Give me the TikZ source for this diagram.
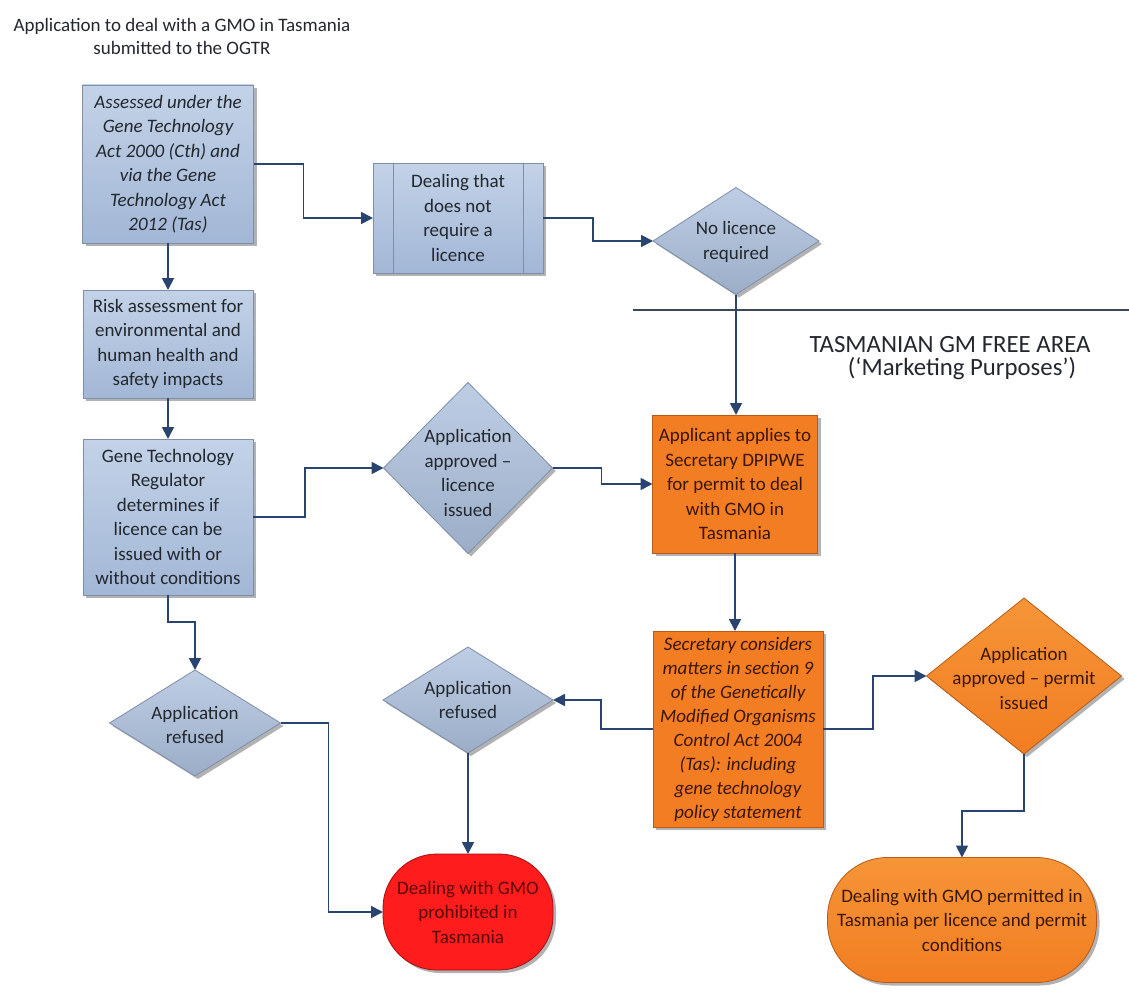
\documentclass[tikz,border=0pt]{standalone}
\usepackage{fontspec}
\setmainfont{Carlito}
\usetikzlibrary{shapes.geometric,arrows.meta,shadows,calc}
\definecolor{blueTop}{HTML}{C3D2E7}
\definecolor{blueBot}{HTML}{A2B7D6}
\definecolor{blueEdge}{HTML}{7F8FA8}
\definecolor{diaFill}{HTML}{A9BCD9}
\definecolor{orangeFill}{HTML}{F27D22}
\definecolor{orangeLight}{HTML}{F59537}
\definecolor{orangeEdge}{HTML}{B85A16}
\definecolor{redFill}{HTML}{FF1C1C}
\definecolor{redEdge}{HTML}{A01010}
\definecolor{textDark}{HTML}{23272E}
\definecolor{textBrown}{HTML}{3B1606}
\definecolor{textRed}{HTML}{5A0808}
\definecolor{arrowBlue}{HTML}{28446F}
\definecolor{ruleGray}{HTML}{3A4858}
\begin{document}
\begin{tikzpicture}[x=1pt,y=-1pt,
  every node/.style={inner sep=0pt,outer sep=0pt},
  txt/.style={font=\fontsize{19}{24.5}\selectfont,align=center,text=textDark},
  shad/.style={drop shadow={shadow xshift=3pt,shadow yshift=-3pt,opacity=0.3,fill=black}},
  bluebox/.style={txt,shad,draw=blueEdge,line width=0.8pt,top color=blueTop,bottom color=blueBot},
  bluedia/.style={shad,diamond,draw=blueEdge,line width=0.8pt,top color=blueTop!80!diaFill,bottom color=diaFill!92!black},
  orangebox/.style={txt,shad,text=textBrown,draw=orangeEdge,line width=0.8pt,fill=orangeFill},
  orangedia/.style={shad,diamond,draw=orangeEdge,line width=0.8pt,top color=orangeLight,bottom color=orangeFill},
  diatext/.style={txt},
  conn/.style={draw=arrowBlue,line width=1.8pt,-{Triangle[length=12pt,width=12pt]}},
]
\useasboundingbox[fill=white] (0,0) rectangle (1129,1006);

% title
\node[font=\fontsize{19}{23}\selectfont,align=center,text=textDark] (title) at (182,36.5)
  {Application to deal with a GMO in Tasmania\\submitted to the OGTR};

% left column
\node[bluebox,font=\itshape\fontsize{19}{24.5}\selectfont,minimum width=171pt,minimum height=158pt] (A) at (168,164)
  {Assessed under the\\Gene Technology\\Act 2000 (Cth) and\\via the Gene\\Technology Act\\2012 (Tas)};
\node[bluebox,minimum width=170pt,minimum height=108pt] (B) at (168,344)
  {Risk assessment for\\environmental and\\human health and\\safety impacts};
\node[bluebox,minimum width=170pt,minimum height=156pt] (C) at (168,517)
  {Gene Technology\\Regulator\\determines if\\licence can be\\issued with or\\without conditions};

% predefined process
\node[bluebox,minimum width=170pt,minimum height=110pt] (D) at (458,218)
  {Dealing that\\does not\\require a\\licence};
\draw[blueEdge,line width=0.8pt] ($(D.north west)+(20,0)$) -- ($(D.south west)+(20,0)$);
\draw[blueEdge,line width=0.8pt] ($(D.north east)+(-20,0)$) -- ($(D.south east)+(-20,0)$);

% diamonds (blue)
\node[bluedia,minimum width=166pt,minimum height=107pt] (d1) at (736,241) {};
\node[diatext] (d1t) at (736,242) {No licence\\required};
\node[bluedia,minimum width=169pt,minimum height=171pt] (d2) at (468,468) {};
\node[diatext] (d2t) at (468,473) {Application\\approved –\\licence\\issued};
\node[bluedia,minimum width=171pt,minimum height=106pt] (dL) at (195,723) {};
\node[diatext] (dLt) at (195,725) {Application\\refused};
\node[bluedia,minimum width=170pt,minimum height=106pt] (dM) at (468,700) {};
\node[diatext] (dMt) at (468,700) {Application\\refused};

% GM free area rule and label
\coordinate (ruleL) at (633,310);
\coordinate (ruleR) at (1129,310);
\draw[ruleGray,line width=1.4pt] (ruleL) -- (ruleR);
\node[font=\fontsize{24.8}{26}\selectfont,text=textDark] (tas1) at (950,345) {TASMANIAN GM FREE AREA};
\node[font=\fontsize{24.8}{26}\selectfont,text=textDark] (tas2) at (962,369) {(‘Marketing Purposes’)};

% orange boxes
\node[orangebox,minimum width=165pt,minimum height=138pt] (E) at (735,484)
  {Applicant applies to\\Secretary DPIPWE\\for permit to deal\\with GMO in\\Tasmania};
\node[orangebox,font=\itshape\fontsize{19}{24}\selectfont,minimum width=170pt,minimum height=196pt] (F) at (738,729)
  {Secretary considers\\matters in section 9\\of the Genetically\\Modified Organisms\\Control Act 2004\\(Tas): including\\gene technology\\policy statement};
\node[orangedia,minimum width=195pt,minimum height=156pt] (dR) at (1024,676) {};
\node[diatext,text=textBrown] (dRt) at (1024,678) {Application\\approved – permit\\issued};

% terminators
\node[txt,shad,text=textRed,draw=redEdge,line width=0.8pt,fill=redFill,rounded corners=54pt,minimum width=170pt,minimum height=116pt] (red) at (468,912)
  {Dealing with GMO\\prohibited in\\Tasmania};
\node[txt,shad,text=textBrown,draw=orangeEdge,line width=0.8pt,top color=orangeLight,bottom color=orangeFill,rounded corners=60pt,minimum width=269pt,minimum height=125pt] (good) at (962,920)
  {Dealing with GMO permitted in\\Tasmania per licence and permit\\conditions};

% connectors
\draw[conn] (A.south) -- (B.north);
\draw[conn] (B.south) -- (C.north);
\draw[conn] (A.east) -- ++(50,0) |- (D.west);
\draw[conn] (D.east) -- ++(50,0) |- (d1.west);
\draw[conn] (d1.south) -- (d1.south |- E.north);
\draw[conn] (C.east) -- ++(52,0) |- (d2.west);
\draw[conn] (d2.east) -- ++(49,0) |- (E.west);
\draw[conn] (E.south) -- (E.south |- F.north);
\draw[conn] (F.west) -- ++(-52,0) |- (dM.east);
\draw[conn] (F.east) -- ++(50,0) |- (dR.west);
\draw[conn] (dR.south) -- ++(0,57) -| (good.north);
\draw[conn] (dM.south) -- (red.north);
\draw[conn] (C.south) -- ++(0,27) -| (dL.north);
\draw[conn] (dL.east) -- ++(48,0) |- (red.west);
\end{tikzpicture}
\end{document}
